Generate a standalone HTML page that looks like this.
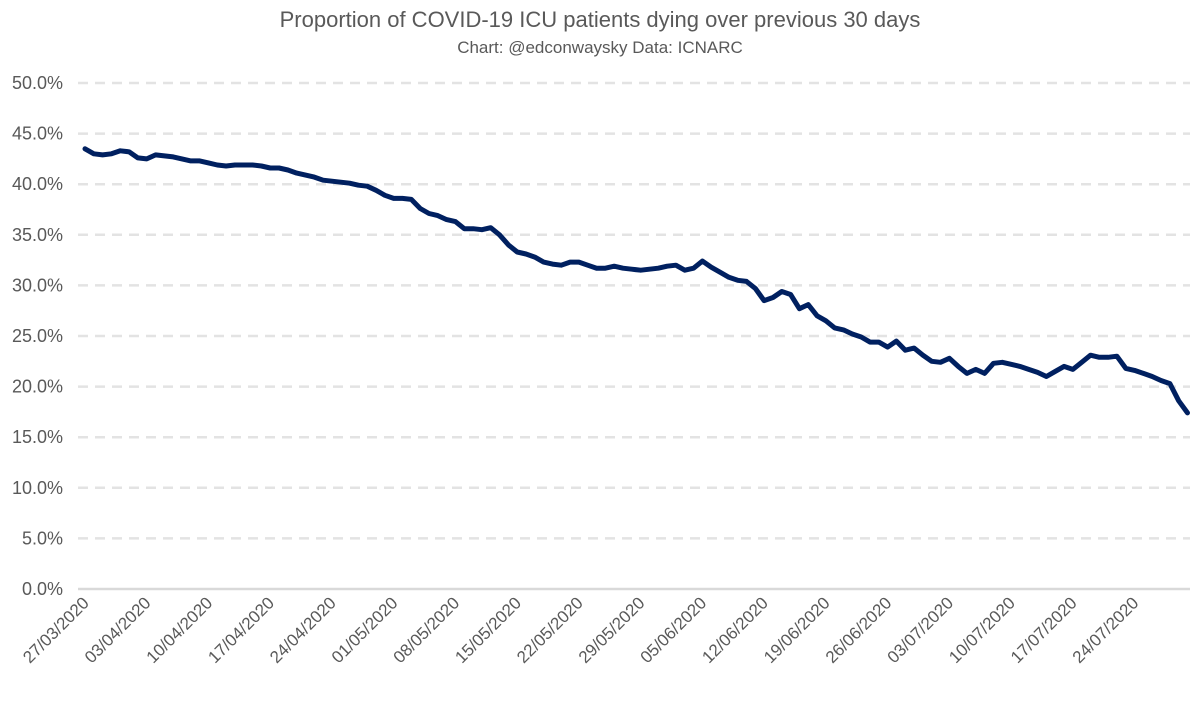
<!DOCTYPE html>
<html><head><meta charset="utf-8"><style>
html,body{margin:0;padding:0;background:#fff;}
svg{display:block;font-family:"Liberation Sans",sans-serif;}
</style></head><body>
<svg id="chart" width="1200" height="701">
<text x="600" y="27" text-anchor="middle" font-size="22" fill="#595959">Proportion of COVID-19 ICU patients dying over previous 30 days</text>
<text x="600" y="53" text-anchor="middle" font-size="17" fill="#595959">Chart: @edconwaysky Data: ICNARC</text>
<g id="grid"></g><g id="yt"></g><g id="xt"></g><g id="ln"></g>
</svg>
<script>
const yTicks=[0,5,10,15,20,25,30,35,40,45,50];
const xLabels=["27/03/2020","03/04/2020","10/04/2020","17/04/2020","24/04/2020","01/05/2020","08/05/2020","15/05/2020","22/05/2020","29/05/2020","05/06/2020","12/06/2020","19/06/2020","26/06/2020","03/07/2020","10/07/2020","17/07/2020","24/07/2020"];
const values=[43.5,43.0,42.9,43.0,43.3,43.2,42.6,42.5,42.9,42.8,42.7,42.5,42.3,42.3,42.1,41.9,41.8,41.9,41.9,41.9,41.8,41.6,41.6,41.4,41.1,40.9,40.7,40.4,40.3,40.2,40.1,39.9,39.8,39.4,38.9,38.6,38.6,38.5,37.6,37.1,36.9,36.5,36.3,35.6,35.6,35.5,35.7,35.0,34.0,33.3,33.1,32.8,32.3,32.1,32.0,32.3,32.3,32.0,31.7,31.7,31.9,31.7,31.6,31.5,31.6,31.7,31.9,32.0,31.5,31.7,32.4,31.8,31.3,30.8,30.5,30.4,29.7,28.5,28.8,29.4,29.1,27.7,28.1,27.0,26.5,25.8,25.6,25.2,24.9,24.4,24.4,23.9,24.5,23.6,23.8,23.1,22.5,22.4,22.8,22.0,21.3,21.7,21.3,22.3,22.4,22.2,22.0,21.7,21.4,21.0,21.5,22.0,21.7,22.4,23.1,22.9,22.9,23.0,21.8,21.6,21.3,21.0,20.6,20.3,18.6,17.4];
const NS="http://www.w3.org/2000/svg";
const y=v=>589-v*10.12;
const x=i=>85+i*8.82;
const g=id=>document.getElementById(id);
yTicks.forEach(t=>{
  const l=document.createElementNS(NS,"line");
  l.setAttribute("x1",78);l.setAttribute("x2",1190);l.setAttribute("y1",y(t));l.setAttribute("y2",y(t));
  l.setAttribute("stroke",t===0?"#d9d9d9":"#e3e3e3");l.setAttribute("stroke-width",2.5);
  if(t!==0)l.setAttribute("stroke-dasharray","10,7");
  
  
  g("grid").appendChild(l);
  const tx=document.createElementNS(NS,"text");
  tx.setAttribute("x",63);tx.setAttribute("y",y(t)+6);tx.setAttribute("text-anchor","end");
  tx.setAttribute("font-size",18);tx.setAttribute("fill","#595959");
  tx.textContent=t.toFixed(1)+"%";
  
  
  g("yt").appendChild(tx);
});
xLabels.forEach((s,k)=>{
  const px=x(k*7)+5,py=604;
  const tx=document.createElementNS(NS,"text");
  tx.setAttribute("x",px);tx.setAttribute("y",py);tx.setAttribute("text-anchor","end");
  tx.setAttribute("font-size",17);tx.setAttribute("fill","#595959");
  tx.setAttribute("transform","rotate(-45 "+px+" "+py+")");
  tx.textContent=s;
  
  
  g("xt").appendChild(tx);
});
const p=document.createElementNS(NS,"polyline");
p.setAttribute("points",values.map((v,i)=>x(i).toFixed(1)+","+y(v).toFixed(1)).join(" "));
p.setAttribute("fill","none");p.setAttribute("stroke","#002060");p.setAttribute("stroke-width",5);
p.setAttribute("stroke-linejoin","round");p.setAttribute("stroke-linecap","round");


g("ln").appendChild(p);
</script>
</body></html>
